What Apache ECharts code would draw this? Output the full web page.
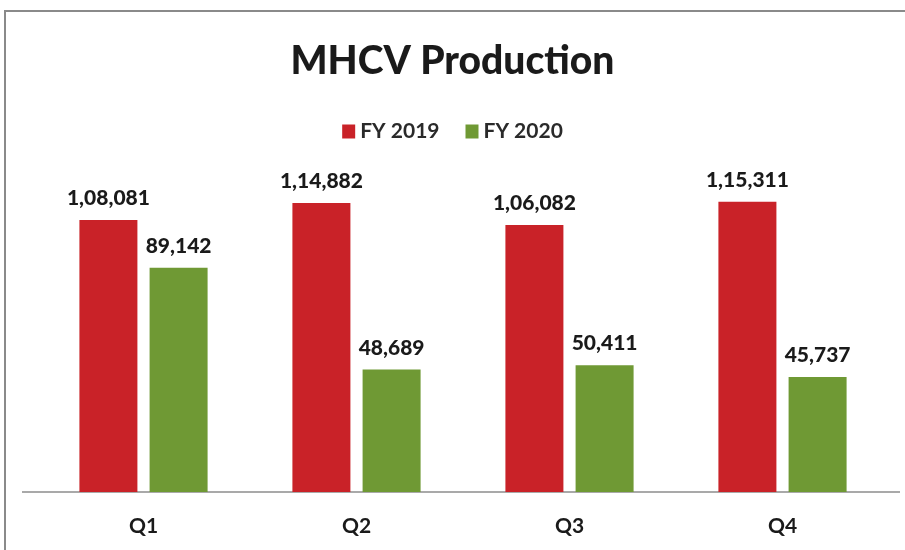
<!DOCTYPE html>
<html>
<head>
<meta charset="utf-8">
<script src="https://cdn.jsdelivr.net/npm/echarts@6/dist/echarts.min.js"></script>
<style>
  html, body { margin: 0; padding: 0; background: #ffffff; }
  #chart { width: 905px; height: 550px; }
</style>
</head>
<body>
<div id="chart"></div>
<script>
var quarters = ['Q1', 'Q2', 'Q3', 'Q4'];
var fy2019 = [108081, 114882, 106082, 115311];
var fy2020 = [89142, 48689, 50411, 45737];

// indian grouping: 1,08,081
function inFormat(n) {
    var s = String(n);
    if (s.length <= 3) return s;
    var last = s.slice(-3);
    var rest = s.slice(0, -3);
    rest = rest.replace(/\B(?=(\d{2})+(?!\d))/g, ',');
    return rest + ',' + last;
}

var mychart = echarts.init(document.getElementById('chart'));
var labelStyle = {
    show: true,
    position: 'top',
    distance: 11,
    fontFamily: 'Lato',
    fontWeight: 900,
    fontSize: 21,
    color: '#1a1a1a',
    formatter: function (p) { return inFormat(p.value); }
};

var option = {
    backgroundColor: '#ffffff',
    title: {
        text: 'MHCV Production',
        left: 'center',
        top: 37,
        textStyle: { fontFamily: 'Lato', fontWeight: 900, fontSize: 39, color: '#1a1a1a' }
    },
    legend: {
        top: 116,
        left: 'center',
        itemWidth: 13,
        itemHeight: 14,
        itemGap: 26,
        icon: 'rect',
        textStyle: { fontFamily: 'Lato', fontWeight: 'bold', fontSize: 21, color: '#2a2a2a' },
        data: ['FY 2019', 'FY 2020']
    },
    graphic: [
        { type: 'rect', shape: { x: 5, y: 11, width: 910, height: 560 },
          style: { fill: 'none', stroke: '#8a8a8a', lineWidth: 2 } },
        { type: 'line', shape: { x1: 22, y1: 492, x2: 900, y2: 492 },
          style: { stroke: '#8c8c8c', lineWidth: 1.5 } }
    ],
    grid: { left: 37, right: 16, top: 190, bottom: 58 },
    xAxis: {
        type: 'category',
        data: quarters,
        axisLine: { show: false },
        axisTick: { show: false },
        axisLabel: { margin: 24, fontFamily: 'Lato', fontWeight: 'bold', fontSize: 21, color: '#1a1a1a' }
    },
    yAxis: {
        type: 'value',
        min: 0,
        max: 120000,
        show: false,
        splitLine: { show: false }
    },
    series: [
        {
            name: 'FY 2019',
            type: 'bar',
            data: fy2019,
            barWidth: 58,
            barGap: '21%',
            itemStyle: { color: '#c92228' },
            label: labelStyle
        },
        {
            name: 'FY 2020',
            type: 'bar',
            data: fy2020,
            barWidth: 58,
            itemStyle: { color: '#6f9934' },
            label: labelStyle
        }
    ]
};
mychart.setOption(option);
</script>
</body>
</html>
